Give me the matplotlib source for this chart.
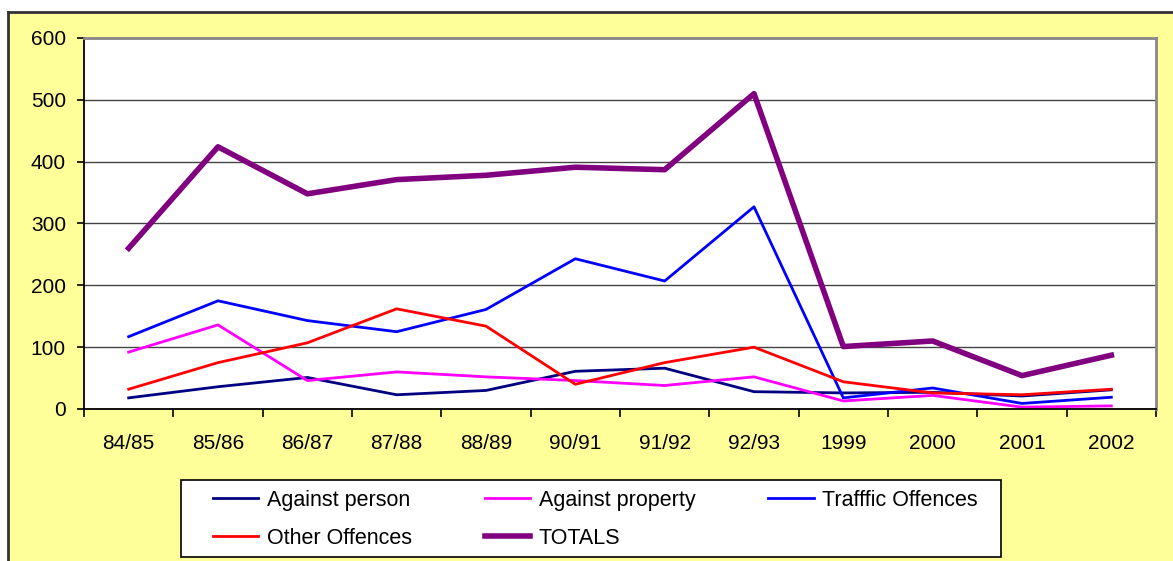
import matplotlib
matplotlib.use("Agg")
import matplotlib.pyplot as plt
from matplotlib.patches import Rectangle
from matplotlib.lines import Line2D

plt.rcParams['font.family'] = ['Liberation Sans', 'DejaVu Sans']

years = ["84/85", "85/86", "86/87", "87/88", "88/89", "90/91",
         "91/92", "92/93", "1999", "2000", "2001", "2002"]
against_person = [18, 36, 51, 23, 30, 61, 66, 28, 26, 27, 21, 31]
against_property = [92, 136, 46, 60, 52, 46, 38, 52, 13, 22, 3, 5]
traffic = [117, 175, 143, 125, 161, 243, 207, 327, 18, 34, 9, 19]
other = [32, 75, 107, 162, 134, 40, 75, 100, 44, 26, 23, 32]
totals = [260, 424, 348, 371, 378, 391, 387, 510, 101, 110, 54, 87]

fig = plt.figure(figsize=(11.73, 5.61), dpi=100)
fig.patch.set_facecolor("white")

# yellow chart area with dark border on top/left
W, H = 1173, 561
bg = Rectangle((8 / W, -0.01), 1.0, 1 - 12 / H + 0.01, transform=fig.transFigure,
               facecolor="#FFFF99", edgecolor="none", zorder=-10)
fig.patches.append(bg)
fig.add_artist(Line2D([8 / W, 1], [1 - 12 / H] * 2, color="#333333", lw=2,
                      transform=fig.transFigure))
fig.add_artist(Line2D([8 / W] * 2, [0, 1 - 12 / H], color="#333333", lw=2,
                      transform=fig.transFigure))

ax = fig.add_axes([84 / W, 1 - 409 / H, (1156 - 84) / W, (409 - 38) / H])
ax.set_facecolor("white")

x = list(range(len(years)))
l_person, = ax.plot(x, against_person, color="#000080", lw=2, label="Against person")
l_prop, = ax.plot(x, against_property, color="#FF00FF", lw=2, label="Against property")
l_traf, = ax.plot(x, traffic, color="#0000FF", lw=2, label="Trafffic Offences")
l_other, = ax.plot(x, other, color="#FF0000", lw=2, label="Other Offences")
l_tot, = ax.plot(x, totals, color="#800080", lw=4, label="TOTALS")

ax.set_xlim(-0.5, len(years) - 0.5)
ax.set_ylim(0, 600)
ax.set_yticks(range(0, 601, 100))
ax.yaxis.grid(True, color="#444444", lw=1)
ax.set_axisbelow(True)

ax.set_xticks(x)
ax.set_xticklabels(years)
ax.set_xticks([i - 0.5 for i in range(len(years) + 1)], minor=True)
ax.tick_params(axis="x", which="major", length=0, pad=18, labelsize=15)
ax.tick_params(axis="x", which="minor", length=6, width=1.2, color="black")
ax.tick_params(axis="y", length=5, width=1.2, pad=8, labelsize=15)

for side in ("left", "bottom"):
    ax.spines[side].set_color("black")
    ax.spines[side].set_linewidth(1.3)
for side in ("top", "right"):
    ax.spines[side].set_color("#888888")
    ax.spines[side].set_linewidth(2)

# legend box drawn separately so the entries can sit with a wider left margin
box = Rectangle((181 / W, 1 - 557 / H), 820 / W, 77 / H, transform=fig.transFigure,
                facecolor="white", edgecolor="black", lw=1.2, zorder=-5)
fig.add_artist(box)

# legend filled row by row (matplotlib fills by column)
handles = [l_person, l_other, l_prop, l_tot, l_traf]
leg = ax.legend(handles, [h.get_label() for h in handles],
                loc="upper left", bbox_to_anchor=(203 / W, 1 - 480 / H),
                bbox_transform=fig.transFigure, borderaxespad=0, ncol=3,
                fontsize=15.5, frameon=False,
                handlelength=2.1, handletextpad=0.4, columnspacing=3.4,
                labelspacing=0.8, borderpad=0.45)

fig.savefig("out.png", dpi=100, facecolor=fig.get_facecolor())
